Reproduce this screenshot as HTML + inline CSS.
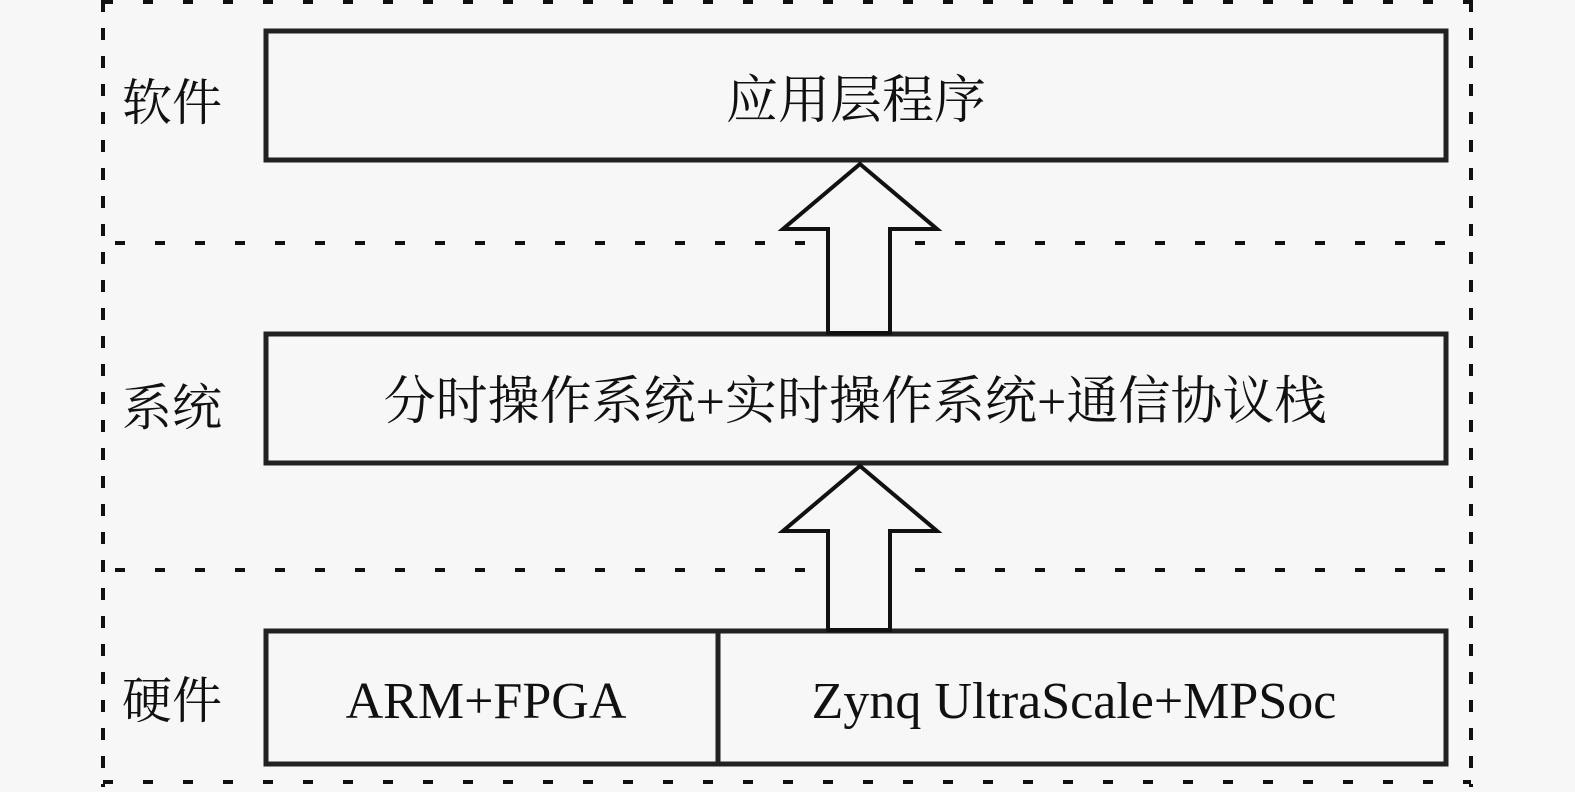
<!DOCTYPE html>
<html><head><meta charset="utf-8"><style>
body{margin:0;background:#f7f7f7}
svg text{font-family:"Liberation Serif","Noto Serif CJK SC",serif;fill:#111}
</style></head><body>
<svg width="1575" height="787" xmlns="http://www.w3.org/2000/svg">
<rect width="1575" height="787" fill="#f7f7f7"/>
<g stroke="#111" stroke-width="4" fill="none">
<line x1="103" y1="0" x2="103" y2="787" stroke-dasharray="12 16"/>
<line x1="1471" y1="0" x2="1471" y2="787" stroke-dasharray="12 16"/>
<line x1="103" y1="2" x2="1471" y2="2" stroke-dasharray="10 30"/>
<line x1="103" y1="782" x2="1471" y2="782" stroke-dasharray="10 30"/>
<line x1="115" y1="243" x2="1471" y2="243" stroke-dasharray="10 30"/>
<line x1="115" y1="570" x2="1471" y2="570" stroke-dasharray="10 30"/>
</g>
<g stroke="#222" stroke-width="5" fill="#f7f7f7">
<rect x="266" y="31" width="1180" height="129"/>
<rect x="266" y="334" width="1180" height="129"/>
<rect x="266" y="631" width="1180" height="133"/>
<line x1="718" y1="631" x2="718" y2="764"/>
</g>
<g stroke="#111" stroke-width="4" fill="#f7f7f7" stroke-linejoin="miter">
<polygon points="860,164 937,229 890,229 890,333 828,333 828,229 783,229"/>
<polygon points="860,466 937,531 890,531 890,630 828,630 828,531 783,531"/>
</g>
<g font-size="50">
<text x="122" y="120">软件</text>
<text x="122" y="425">系统</text>
<text x="122" y="718">硬件</text>
</g>
<g font-size="52" text-anchor="middle">
<text x="856" y="118">应用层程序</text>
<text x="855" y="419">分时操作系统+实时操作系统+通信协议栈</text>
<text x="486" y="718">ARM+FPGA</text>
<text x="1074" y="718">Zynq UltraScale+MPSoc</text>
</g>
</svg>
</body></html>
